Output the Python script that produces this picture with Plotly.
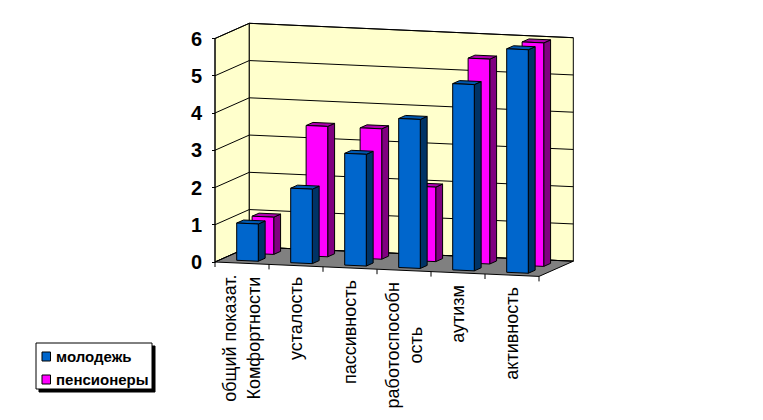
import plotly.graph_objects as go

categories = ["общий показат.<br>Комфортности", "усталость", "пассивность",
              "работоспособн<br>ость", "аутизм", "активность"]
series_names = ["молодежь", "пенсионеры"]
youth = [1, 2, 3, 4, 5, 6]
pensioners = [1, 3.5, 3.5, 2, 5.5, 6]
value_ticks = [0, 1, 2, 3, 4, 5, 6]

PAGE = 8                    # default page margin round the figure
W, H = 763 - 2 * PAGE, 420 - 2 * PAGE
FONT = "Liberation Sans"
X0, Y0 = 215.0 - PAGE, 262.0 - PAGE  # front-left floor corner, figure pixels
CAT_DX, CAT_DY = 54.0, 2.4  # pixels per category along the x axis
DEP_DX, DEP_DY = 34.3, -15.2  # pixels across the full depth
UNIT = 37.25                # pixels per value unit
N = len(categories)
VMAX = value_ticks[-1]


def P(c, d, v):
    """Oblique projection: category position, depth 0-1, value -> axis coordinates."""
    return c + d * DEP_DX / CAT_DX, v - (c * CAT_DY + d * DEP_DY) / UNIT


def path(points):
    xy = [P(*p) for p in points]
    return [a for a, _ in xy] + [xy[0][0]], [b for _, b in xy] + [xy[0][1]]


def poly(points_list, fill, width=1):
    xs, ys = [], []
    for pts in points_list:
        a, b = path(pts)
        xs += a + [None]
        ys += b + [None]
    return go.Scatter(x=xs, y=ys, mode="lines", fill="toself", fillcolor=fill,
                      line=dict(color="black", width=width), hoverinfo="skip", showlegend=False)


def seg(points_list):
    xs, ys = [], []
    for a, b in points_list:
        p, q = P(*a), P(*b)
        xs += [p[0], q[0], None]
        ys += [p[1], q[1], None]
    return go.Scatter(x=xs, y=ys, mode="lines", line=dict(color="black", width=1),
                      hoverinfo="skip", showlegend=False)


fig = go.Figure()
# walls and floor
fig.add_trace(poly([[(0, 0, 0), (0, 1, 0), (0, 1, VMAX), (0, 0, VMAX)]], "#FFFFCC"))
fig.add_trace(poly([[(0, 1, 0), (N, 1, 0), (N, 1, VMAX), (0, 1, VMAX)]], "#FFFFCC"))
fig.add_trace(poly([[(0, 0, 0), (N, 0, 0), (N, 1, 0), (0, 1, 0)]], "#808080"))
# gridlines on both walls
grid = []
for v in value_ticks:
    grid.append(((0, 0, v), (0, 1, v)))
    grid.append(((0, 1, v), (N, 1, v)))
fig.add_trace(seg(grid))
# axis line and category ticks
ticks = [((0, 0, 0), (0, 0, VMAX))]
for i in range(N + 1):
    ticks.append(((i, 0, 0), (i, 0, -5 / UNIT)))
fig.add_trace(seg(ticks))


def bars(values, d0, d1, front, side, top):
    fr, si, tp = [], [], []
    for i, v in enumerate(values):
        c0, c1 = i + 0.3, i + 0.7
        fr.append([(c0, d0, 0), (c1, d0, 0), (c1, d0, v), (c0, d0, v)])
        si.append([(c1, d0, 0), (c1, d1, 0), (c1, d1, v), (c1, d0, v)])
        tp.append([(c0, d0, v), (c1, d0, v), (c1, d1, v), (c0, d1, v)])
    fig.add_trace(poly(si, side))
    fig.add_trace(poly(tp, top))
    fig.add_trace(poly(fr, front))


bars(pensioners, 0.61, 0.81, "#FF00FF", "#800080", "#B000B0")
bars(youth, 0.16, 0.36, "#0066CC", "#003366", "#0058B0")


def px(x):
    return (x - PAGE) / W


def py(y):
    return 1 - (y - PAGE) / H


annotations = []
for i, name in enumerate(categories):
    x, y = P(i + 0.5, 0, 0)
    annotations.append(dict(text=name, x=x, y=y - 10 / UNIT, xref="x", yref="y",
                            textangle=-90, xanchor="center", yanchor="top", showarrow=False,
                            align="center", font=dict(family=FONT, size=18, color="black")))

# legend box
shapes = [
    dict(type="rect", xref="paper", yref="paper", x0=px(39), x1=px(155), y0=py(392), y1=py(346),
         fillcolor="black", line=dict(color="black", width=1)),
    dict(type="rect", xref="paper", yref="paper", x0=px(36), x1=px(152), y0=py(389), y1=py(343),
         fillcolor="white", line=dict(color="black", width=1)),
]
legend_items = [(series_names[0], "#0066CC", 356.5), (series_names[1], "#FF00FF", 379.5)]
for name, colour, yc in legend_items:
    shapes.append(dict(type="rect", xref="paper", yref="paper", x0=px(42), x1=px(50.5),
                       y0=py(yc + 4.5), y1=py(yc - 4.5), fillcolor=colour,
                       line=dict(color="black", width=1)))
    annotations.append(dict(text=name, x=px(55), y=py(yc), xref="paper", yref="paper",
                            xanchor="left", yanchor="middle", showarrow=False,
                            font=dict(family=FONT, size=15, color="black", weight="bold"),
                            borderpad=0))

fig.update_layout(
    width=W, height=H, margin=dict(l=0, r=0, t=0, b=0, pad=0), autosize=False,
    paper_bgcolor="white", plot_bgcolor="white", showlegend=False,
    xaxis=dict(range=[-X0 / CAT_DX, (W - X0) / CAT_DX], visible=False, fixedrange=True),
    yaxis=dict(range=[(Y0 - H) / UNIT, Y0 / UNIT], anchor="free", position=X0 / W, side="left",
               tickmode="array", tickvals=value_ticks, ticktext=[str(v) for v in value_ticks],
               ticks="outside", ticklen=3, tickcolor="black", tickwidth=1,
               showgrid=False, zeroline=False, showline=False, fixedrange=True,
               ticklabelstandoff=6,
               tickfont=dict(family=FONT, size=20, color="black", weight="bold")),
    shapes=shapes, annotations=annotations,
)
fig.write_html("out.html")
